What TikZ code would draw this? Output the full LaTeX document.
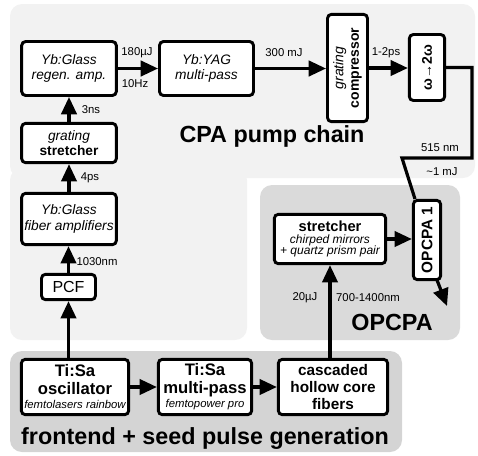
\documentclass[tikz,border=0pt]{standalone}
\usepackage{fontspec}
\setmainfont{Liberation Sans}
\usetikzlibrary{arrows.meta,calc}
\definecolor{regA}{HTML}{F2F2F2}
\definecolor{regB}{HTML}{DADADA}
\definecolor{regC}{HTML}{D4D4D4}
\begin{document}
\begin{tikzpicture}[x=0.75pt,y=-0.75pt,
  box/.style={draw=black, line width=2.2pt, rounded corners=3pt, fill=white, align=center, inner sep=1pt},
  ibox/.style={box, font=\fontsize{10.3}{11.5}\selectfont\itshape},
  arr/.style={line width=2.4pt, -{Triangle[length=13pt,width=11.5pt]}},
  ln/.style={line width=2.4pt},
  lbl/.style={font=\fontsize{8.5}{10}\selectfont, inner sep=0pt},
  title/.style={font=\fontsize{17.5}{20}\selectfont\bfseries, inner sep=0pt},
  region/.style={rounded corners=9pt}]
\useasboundingbox (0,0) rectangle (478,455);
% regions
\fill[regA, region] (10,4) rectangle (475,178);
\fill[regA, region] (10,168) rectangle (247,340);
\fill[regB, region] (260,185) rectangle (460,340);
\fill[regC, region] (10,351) rectangle (402,452);
% nodes
\node[ibox, minimum width=71pt, minimum height=40.5pt] (regen) at (69,68.5) {Yb:Glass\\regen. amp.};
\node[ibox, minimum width=70.5pt, minimum height=40.5pt] (yag) at (206.5,68.5) {Yb:YAG\\multi-pass};
\node[box, rotate=90, minimum width=80.5pt, minimum height=30pt, font=\fontsize{10.5}{11.5}\selectfont] (comp) at (347.5,68) {\textit{grating}\\\textbf{compressor}};
\node[box, rotate=90, minimum width=49.5pt, minimum height=26.5pt, font=\fontsize{10.5}{12}\selectfont\bfseries] (shg) at (427,67.5) {ω→2ω};
\node[box, minimum width=71pt, minimum height=29.5pt, font=\fontsize{10.3}{11.5}\selectfont] (gstretch) at (69,143) {\textit{grating}\\\textbf{stretcher}};
\node[ibox, minimum width=71pt, minimum height=38.5pt] (fiber) at (69,219) {Yb:Glass\\fiber amplifiers};
\node[box, minimum width=40.5pt, minimum height=19pt, font=\fontsize{12}{13}\selectfont] (pcf) at (68.5,287) {PCF};
\node[box, minimum width=80.5pt, minimum height=41.5pt, font=\fontsize{12.5}{13.5}\selectfont\bfseries] (osc) at (75,387) {Ti:Sa\\oscillator\\[-3pt]{\fontsize{8.5}{9}\selectfont\mdseries\itshape femtolasers rainbow}};
\node[box, minimum width=70pt, minimum height=41.5pt, font=\fontsize{12.5}{13.5}\selectfont\bfseries] (mp) at (205,387) {Ti:Sa\\multi-pass\\[-3pt]{\fontsize{8.5}{9}\selectfont\mdseries\itshape femtopower pro}};
\node[box, minimum width=82pt, minimum height=41.5pt, font=\fontsize{11.5}{12.75}\selectfont\bfseries] (hcf) at (333,387) {cascaded\\hollow core\\fibers};
\node[box, minimum width=83.5pt, minimum height=37pt, font=\fontsize{9}{8.5}\selectfont\itshape] (ostr) at (330,239) {{\fontsize{11}{10}\selectfont\bfseries\upshape stretcher}\\chirped mirrors\\+ quartz prism pair};
\node[box, rotate=90, minimum width=59.5pt, minimum height=20.5pt, font=\fontsize{11.5}{12}\selectfont\bfseries] (opcpa1) at (427,240) {OPCPA 1};
% connectors
\draw[arr] (osc.north -| pcf.south) -- (pcf.south);
\draw[arr] (pcf.north) -- (pcf.north |- fiber.south);
\draw[arr] (fiber.north) -- (gstretch.south);
\draw[arr] (gstretch.north) -- (regen.south);
\draw[arr] (regen.east) -- (yag.west);
\draw[arr] (yag.east) -- (yag.east -| comp.north);
\draw[arr] (comp.south) -- (comp.south -| shg.north);
\draw[arr] (osc.east) -- (mp.west);
\draw[arr] (mp.east) -- (hcf.west);
\draw[arr] (hcf.north -| ostr.south) -- (ostr.south);
\draw[arr] (ostr.east) -- (ostr.east -| opcpa1.north);
\coordinate (c1) at (472,158);
\coordinate (c2) at (402,158);
\coordinate (c3) at (415,199);
\draw[ln, line join=miter] (shg.south) -| (c1) -- (c2) -- (c3);
\coordinate (o1) at (437,280);
\coordinate (o2) at (447,306);
\draw[arr] (o1) -- (o2);
% labels
\node[lbl] (l1) at (137,53) {180µJ};
\node[lbl] (l2) at (135,84) {10Hz};
\node[lbl] (l3) at (284,53) {300 mJ};
\node[lbl] (l4) at (386,53) {1-2ps};
\node[lbl] (l5) at (91,110) {3ns};
\node[lbl] (l6) at (90,178) {4ps};
\node[lbl] (l7) at (97,262) {1030nm};
\node[lbl] (l8) at (440,148) {515 nm};
\node[lbl] (l9) at (442,172) {\textasciitilde1 mJ};
\node[lbl] (l10) at (305,298) {20µJ};
\node[lbl] (l11) at (368,298) {700-1400nm};
% titles
\node[title, anchor=base] (t1) at (272,142) {CPA pump chain};
\node[title, anchor=base] (t2) at (392,330) {OPCPA};
\node[title, anchor=base] (t3) at (205,444) {frontend + seed pulse generation};
\end{tikzpicture}
\end{document}
